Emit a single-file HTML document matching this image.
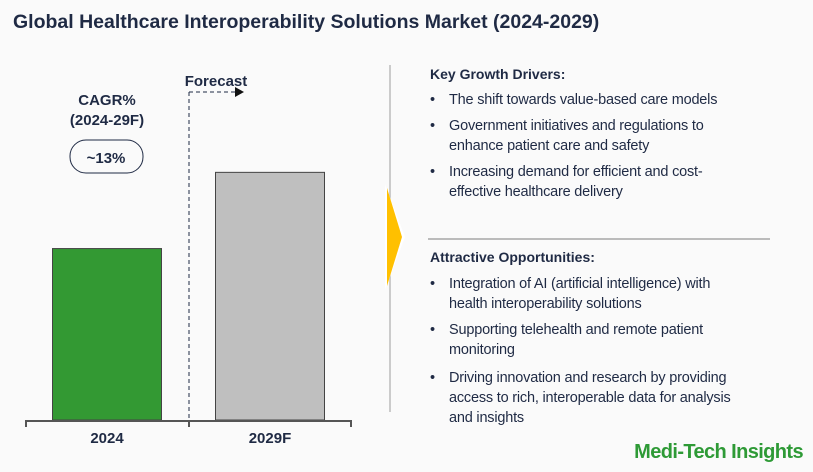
<!DOCTYPE html>
<html><head><meta charset="utf-8"><style>
body{margin:0;width:813px;height:472px;background:#fafafa;font-family:"Liberation Sans",Arial,sans-serif;color:#1f2a44;position:relative;overflow:hidden}
.a{position:absolute;white-space:nowrap}
.h{font-weight:bold;font-size:14px}
.b{font-size:14.5px;line-height:20px;letter-spacing:-0.2px}
.li{position:absolute;left:430px;width:360px}
.li span{position:absolute;left:0}
.li div{position:absolute;left:19px;white-space:nowrap}
</style></head><body>
<div class="a" style="left:13px;top:11px;font-size:19.5px;font-weight:bold">Global Healthcare Interoperability Solutions Market (2024-2029)</div>
<svg class="a" style="left:0;top:0" width="813" height="472">
<g id="bars"></g>
<line x1="390" y1="65" x2="390" y2="412" stroke="#bbb" stroke-width="1.5"/>
<polygon points="385,184 385,290 405,237" fill="#fff"/>
<polygon points="387,188 387,286 402,237" fill="#ffc000"/>
<line x1="189" y1="92" x2="189" y2="420" stroke="#1f2a44" stroke-width="1" stroke-dasharray="4,3"/>
<line x1="189" y1="92" x2="235" y2="92" stroke="#1f2a44" stroke-width="1" stroke-dasharray="4,3"/>
<polygon points="235,87 244,92 235,97" fill="#111"/>
<text x="216" y="86" font-size="15" font-weight="bold" text-anchor="middle" fill="#1f2a44">Forecast</text>
<text x="107" y="105" font-size="15" font-weight="bold" text-anchor="middle" fill="#1f2a44">CAGR%</text>
<text x="107" y="125" font-size="15" font-weight="bold" text-anchor="middle" fill="#1f2a44">(2024-29F)</text>
<rect x="70" y="140" width="73" height="33" rx="16" fill="none" stroke="#1f2a44" stroke-width="1"/>
<text x="106" y="163" font-size="15" font-weight="bold" text-anchor="middle" fill="#1f2a44">~13%</text>
<g id="axis"></g>
</svg>
<div class="a h" style="left:430px;top:66px">Key Growth Drivers:</div>
<div class="li b" style="top:90px"><span>•</span><div>The shift towards value-based care models</div></div>
<div class="li b" style="top:116px"><span>•</span><div>Government initiatives and regulations to<br>enhance patient care and safety</div></div>
<div class="li b" style="top:162px"><span>•</span><div>Increasing demand for efficient and cost-<br>effective healthcare delivery</div></div>
<div class="a" style="left:428px;top:238px;width:342px;height:2px;background:#bbb"></div>
<div class="a h" style="left:430px;top:249px">Attractive Opportunities:</div>
<div class="li b" style="top:274px"><span>•</span><div>Integration of AI (artificial intelligence) with<br>health interoperability solutions</div></div>
<div class="li b" style="top:320px"><span>•</span><div>Supporting telehealth and remote patient<br>monitoring</div></div>
<div class="li b" style="top:368px"><span>•</span><div>Driving innovation and research by providing<br>access to rich, interoperable data for analysis<br>and insights</div></div>
<div class="a" style="right:10px;top:441px;font-size:20px;font-weight:bold;color:#2e9a36;letter-spacing:-0.6px">Medi-Tech Insights</div>
<script>
const categories=["2024","2029F"];
const values=[4.5,6.5];
const colors=["#339933","#bfbfbf"];
const ns="http://www.w3.org/2000/svg";
const baseY=420, pxPerUnit=38.1;
const y=v=>baseY-v*pxPerUnit;
const xCenter=i=>107+i*163;
const bw=109;
const g=document.getElementById('bars');
categories.forEach((c,i)=>{
 const r=document.createElementNS(ns,'rect');
 r.setAttribute('x',xCenter(i)-bw/2);r.setAttribute('y',y(values[i]));
 r.setAttribute('width',bw);r.setAttribute('height',baseY-y(values[i]));
 r.setAttribute('fill',colors[i]);r.setAttribute('stroke','#444');r.setAttribute('stroke-width','1');
 
 
 g.appendChild(r);
 const t=document.createElementNS(ns,'text');
 t.setAttribute('x',xCenter(i));t.setAttribute('y',443);t.setAttribute('text-anchor','middle');
 t.setAttribute('font-size','15');t.setAttribute('font-weight','bold');t.setAttribute('fill','#1f2a44');
 t.textContent=c;
 
 
 g.appendChild(t);
});
const ax=document.getElementById('axis');
ax.innerHTML='<path d="M26,427 V421 H351 V427 M189,421 V427" fill="none" stroke="#555" stroke-width="2"/>';


</script>
</body></html>
